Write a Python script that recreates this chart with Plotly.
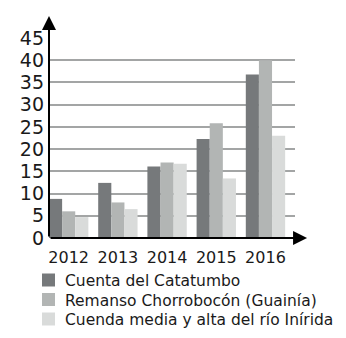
import plotly.graph_objects as go

years = ["2012", "2013", "2014", "2015", "2016"]
series_names = ["Cuenta del Catatumbo", "Remanso Chorrobocón (Guainía)", "Cuenda media y alta del río Inírida"]
catatumbo = [8.8, 12.4, 16.1, 22.3, 36.8]
remanso = [6.0, 8.0, 17.0, 25.8, 40.0]
inirida = [4.7, 6.5, 16.7, 13.4, 23.0]
y_ticks = [0, 5, 10, 15, 20, 25, 30, 35, 40, 45]

colors = ["#76797b", "#b2b5b4", "#d9dbda"]
values = [catatumbo, remanso, inirida]

fig = go.Figure()
for name, vals, c in zip(series_names, values, colors):
    fig.add_trace(go.Bar(x=years, y=vals, name=name, marker=dict(color=c, line=dict(width=0))))

FONT = "DejaVu Sans"
L, T, PW, PH = 49, 38, 246, 200


def px(x):
    return (x - L) / PW


def py(y):
    return (T + PH - y) / PH


fig.update_layout(
    width=346, height=338,
    margin=dict(l=49, r=51, t=38, b=100, autoexpand=False),
    paper_bgcolor="white", plot_bgcolor="white",
    barmode="group", bargap=0.2, bargroupgap=0,
    font=dict(family=FONT, color="#1a1a1a"),
    showlegend=False,
    xaxis=dict(range=[-0.4, 4.6], showgrid=False, showline=False, zeroline=False,
               ticks="", tickfont=dict(size=16, family=FONT), ticklabelstandoff=8),
    yaxis=dict(range=[0, 45], tickvals=y_ticks, showgrid=True, gridcolor="#a3a5a5",
               gridwidth=2, zeroline=False, showline=False, ticks="",
               tickfont=dict(size=19, family=FONT), ticklabelstandoff=4),
)

# legend built as shapes + text
row_centers = [280, 299.5, 319]
for name, c, yc in zip(series_names, colors, row_centers):
    fig.add_shape(type="rect", xref="paper", yref="paper",
                  x0=px(42), x1=px(55), y0=py(yc - 6.5), y1=py(yc + 6.5),
                  fillcolor=c, line=dict(width=0))
    fig.add_annotation(x=px(63), y=py(yc + 1), xref="paper", yref="paper",
                       text=name, showarrow=False, xanchor="left", yanchor="middle",
                       font=dict(size=15.5, family=FONT, color="#1a1a1a"))

# axes with arrowheads
fig.add_annotation(x=0, y=1.11, xref="paper", yref="paper", ax=0, ay=222,
                   showarrow=True, arrowhead=2, arrowsize=1.4, arrowwidth=2,
                   arrowcolor="black", text="", standoff=0)
fig.add_annotation(x=1.049, y=0, xref="paper", yref="paper", ax=-258, ay=0,
                   showarrow=True, arrowhead=2, arrowsize=1.4, arrowwidth=2,
                   arrowcolor="black", text="", standoff=0)

fig.write_html("out.html")
